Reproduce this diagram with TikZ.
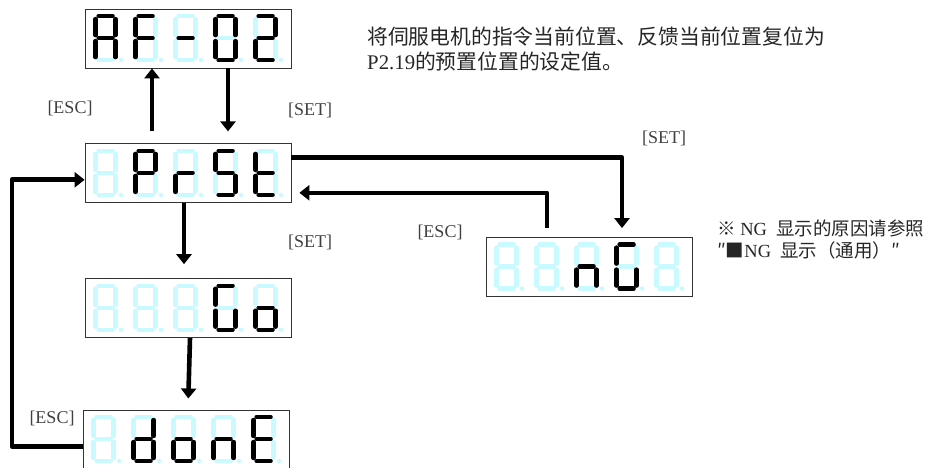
\documentclass[tikz,border=0pt]{standalone}
\usepackage{fontspec}
\setmainfont{Liberation Serif}
\newfontfamily\cjk{Noto Sans CJK SC}
\usepackage{tikz}
\usetikzlibrary{arrows.meta,positioning,calc}
\definecolor{segoff}{RGB}{200,250,255}

\tikzset{
  seg/.style={line width=4.4pt, line cap=round},
  segdigit/.pic={
    \coordinate (a1) at (5,2);   \coordinate (a2) at (19,2);
    \coordinate (b1) at (22,5);  \coordinate (b2) at (22,21);
    \coordinate (c1) at (22,27); \coordinate (c2) at (22,43);
    \coordinate (d1) at (5,46);  \coordinate (d2) at (19,46);
    \coordinate (e1) at (2,27);  \coordinate (e2) at (2,43);
    \coordinate (f1) at (2,5);   \coordinate (f2) at (2,21);
    \coordinate (g1) at (5,24);  \coordinate (g2) at (19,24);
    \foreach \s in {a,...,g} \draw[seg, segoff] (\s1) -- (\s2);
    \fill[segoff] (27.5,46) circle (2.2);
    \edef\seglist{#1}
    \foreach \s in \seglist {\ifx\s\empty\else\draw[seg, black] (\s1) -- (\s2);\fi}
  }
}

\begin{document}
\begin{tikzpicture}[x=1pt, y=-1pt,
  display/.style={rectangle, draw=black!80, line width=0.8pt, fill=white,
                  minimum width=206pt, minimum height=59pt, inner sep=0pt},
  key/.style={font=\fontsize{18}{18}\selectfont, text=black!75, inner sep=0pt},
  note/.style={align=left, inner sep=0pt, text=black!85},
  arr/.style={-{Triangle[length=10pt,width=15pt]}, line width=4.6pt, line join=round}
]
  \useasboundingbox (0,0) rectangle (948,468);

  \node[display] (af02) at (188,38.5) {};
  \node[display, below=75pt of af02] (prst) {};
  \node[display, below=75pt of prst] (go) {};
  \node[display, below=72pt of go, xshift=-2pt, yshift=0.5pt] (done) {};
  \node[display] (ng) at (589,267) {};

  \foreach \p [count=\i from 0] in {{a,b,c,e,f,g},{a,e,f,g},{g},{a,b,c,d,e,f},{a,b,d,e,g}}
    \pic at ($(af02.north west)+(9+40*\i,5.5)$) {segdigit=\p};
  \foreach \p [count=\i from 0] in {{},{a,b,e,f,g},{e,g},{a,c,d,f,g},{d,e,f,g}}
    \pic at ($(prst.north west)+(9+40*\i,5.5)$) {segdigit=\p};
  \foreach \p [count=\i from 0] in {{},{},{},{a,c,d,e,f},{c,d,e,g}}
    \pic at ($(go.north west)+(9+40*\i,5.5)$) {segdigit=\p};
  \foreach \p [count=\i from 0] in {{},{b,c,d,e,g},{c,d,e,g},{c,e,g},{a,d,e,f,g}}
    \pic at ($(done.north west)+(9+40*\i,5.5)$) {segdigit=\p};
  \foreach \p [count=\i from 0] in {{},{},{c,e,g},{a,c,d,e,f},{}}
    \pic at ($(ng.north west)+(9+40*\i,5.5)$) {segdigit=\p};

  \coordinate (rail) at (12,300);

  \draw[arr, shorten >=12pt] ([xshift=40pt]af02.south) -- ([xshift=40pt]prst.north);
  \draw[arr, shorten <=12pt] ([xshift=-36pt]prst.north) -- ([xshift=-36pt]af02.south);
  \draw[arr, shorten >=14pt] ([xshift=-4pt]prst.south) -- ([xshift=-4pt]go.north);
  \draw[arr, shorten >=11pt] ([xshift=2pt]go.south) -- ([xshift=2pt]done.north);
  \draw[arr] ([yshift=-7pt]done.west) -| (rail) |- ([yshift=-6.5pt]prst.west);
  \draw[arr, shorten >=9pt] ([yshift=15.5pt]prst.east) -| ([xshift=33pt]ng.north);
  \draw[arr, shorten <=9pt, shorten >=8pt] ([xshift=-42pt]ng.north) |- ([yshift=-19.5pt]prst.east);

  \node[key] (esc1) at (70,108) {[ESC]};
  \node[key] (set1) at (310,110) {[SET]};
  \node[key] (set2) at (310,242) {[SET]};
  \node[key] (esc2) at (440,232) {[ESC]};
  \node[key] (set3) at (664,138) {[SET]};
  \node[key] (esc3) at (52,418) {[ESC]};

  \node[note, anchor=west, font=\fontsize{20.8}{25}\selectfont] (desc) at (367,49.5)
    {{\cjk 将伺服电机的指令当前位置、反馈当前位置复位为}\\P2.19{\cjk 的预置位置的设定值。}};
  \node[note, anchor=west, font=\fontsize{18.5}{21.5}\selectfont] (ngnote) at (717,239.5)
    {{\cjk ※}\ NG\ \ {\cjk 显示的原因请参照}\\{\cjk ″■}NG\ \ {\cjk 显示（通用）″}};
\end{tikzpicture}
\end{document}
